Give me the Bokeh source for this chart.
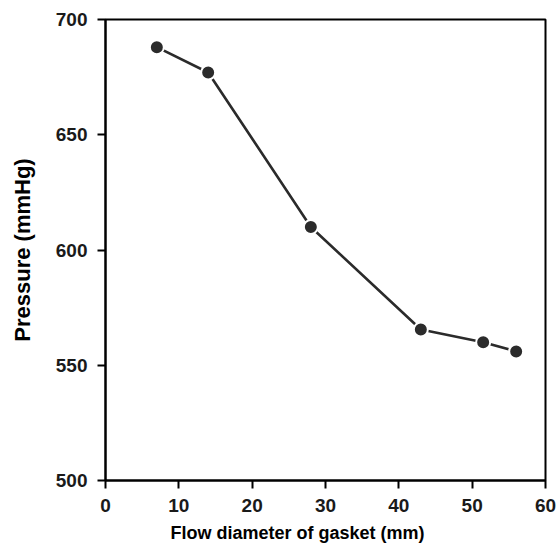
from bokeh.plotting import figure
from bokeh.models import Range1d, FixedTicker, Title
from bokeh.embed import file_html
from bokeh.resources import INLINE

diameter = [7, 14, 28, 43, 51.5, 56]
pressure = [688, 677, 610, 565.5, 560, 556]
x_ticks = [0, 10, 20, 30, 40, 50, 60]
y_ticks = [500, 550, 600, 650, 700]
x_title = "Flow diameter of gasket (mm)"
y_title = "Pressure (mmHg)"

p = figure(width=556, height=552, output_backend="svg", toolbar_location=None,
           x_range=Range1d(0, 60), y_range=Range1d(500, 700),
           min_border_left=105, min_border_right=11, min_border_top=19, min_border_bottom=72)
p.xgrid.visible = False
p.ygrid.visible = False
p.outline_line_color = "black"
p.outline_line_width = 2
p.outline_line_alpha = 1

p.line(diameter, pressure, line_color="#2b2b2b", line_width=2.6)
p.scatter(diameter, pressure, size=14, fill_color="#2b2b2b", line_color="white", line_width=2)

p.xaxis.ticker = FixedTicker(ticks=x_ticks)
p.yaxis.ticker = FixedTicker(ticks=y_ticks)
p.axis.axis_line_color = "black"
p.axis.axis_line_width = 2
p.axis.major_tick_line_color = "black"
p.axis.major_tick_line_width = 2
p.axis.major_tick_out = 8
p.axis.major_tick_in = 0
p.axis.minor_tick_line_color = None
p.axis.major_label_text_font = "Liberation Sans"
p.axis.major_label_text_font_style = "bold"
p.axis.major_label_text_font_size = "19px"
p.axis.major_label_text_color = "#1a1a1a"
p.axis.axis_label_text_font = "Liberation Sans"
p.axis.axis_label_text_font_style = "bold"
p.axis.axis_label_text_color = "black"

p.yaxis.axis_label = y_title
p.yaxis.axis_label_text_font_size = "22px"
p.xaxis.major_label_standoff = 10
p.yaxis.major_label_standoff = 10
p.yaxis.axis_label_standoff = 18

p.add_layout(Title(text=x_title, align="left", offset=65, standoff=16, vertical_align="top",
                   text_font="Liberation Sans", text_font_style="bold", text_font_size="18px",
                   text_color="black"), "below")

open("out.html", "w").write(file_html(p, INLINE))
